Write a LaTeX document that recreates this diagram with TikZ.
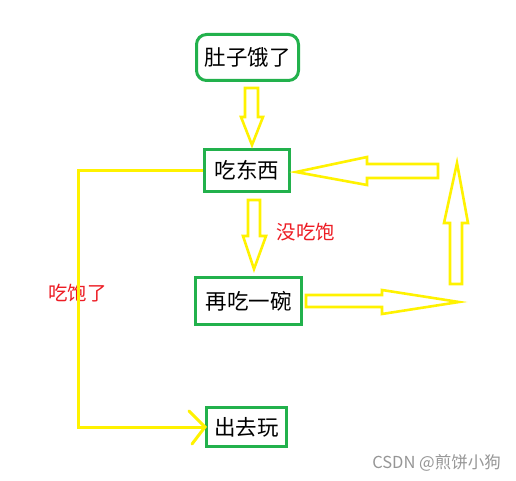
\documentclass[tikz,border=0pt]{standalone}
\usepackage{fontspec}
\newfontfamily\cjk{Noto Sans CJK SC}
\definecolor{pgreen}{RGB}{34,177,76}
\definecolor{pyellow}{RGB}{255,242,0}
\definecolor{pred}{RGB}{237,28,36}
\definecolor{pgray}{RGB}{150,150,150}
\begin{document}
\begin{tikzpicture}[x=1pt,y=-1pt,
  box/.style={draw=pgreen,line width=3pt,fill=white,inner sep=0pt,font=\cjk\fontsize{21.5}{25}\selectfont},
  blockarrow/.style={draw=pyellow,line width=2.6pt,line join=miter},
  flow/.style={draw=pyellow,line width=3pt},
  lab/.style={text=pred,font=\cjk\fontsize{19.5}{23}\selectfont,inner sep=0pt}]
\useasboundingbox[fill=white] (0,0) rectangle (516,481);
% nodes
\node[box,rounded corners=10pt,minimum width=102pt,minimum height=46pt] (hungry) at (247.5,57.5) {肚子饿了};
\node[box,minimum width=85pt,minimum height=42pt] (eat) at (247,170.5) {吃东西};
\node[box,minimum width=106pt,minimum height=47pt] (more) at (248.5,301) {再吃一碗};
\node[box,minimum width=80pt,minimum height=39pt] (play) at (246.5,427) {出去玩};
% labels
\node[lab] (notfull) at (306,232) {没吃饱};
\node[lab] (full) at (77.5,293) {吃饱了};
\node[text=pgray,font=\cjk\fontsize{16.5}{19}\selectfont,inner sep=0pt,anchor=east] (mark) at (501,463) {CSDN @煎饼小狗};
% block arrows
\draw[blockarrow] (245,88)--(258,88)--(258,117)--(263,117)--(252,145)--(241,117)--(245,117)--cycle;
\draw[blockarrow] (248,200)--(260,200)--(260,236)--(266,236)--(254,269)--(243,236)--(248,236)--cycle;
\draw[blockarrow] (438,164)--(438,178)--(367,178)--(367,185)--(296,172)--(367,157)--(367,164)--cycle;
\draw[blockarrow] (450,284)--(462,284)--(462,223)--(468,223)--(457,163)--(444,223)--(450,223)--cycle;
\draw[blockarrow] (306,295)--(382,295)--(382,290)--(459,302)--(382,314)--(382,307)--(306,307)--cycle;
% flow line
\coordinate (xl) at (78,0);
\coordinate (c1) at (eat.west -| xl);
\coordinate (c2) at (play.west -| xl);
\draw[flow] (eat.west) -- (c1) -- (c2) -- (play.west);
\coordinate (h1) at (189,411);
\coordinate (h2) at (192,444);
\draw[flow,line cap=round] (h1) -- (play.west) -- (h2);
\end{tikzpicture}
\end{document}
